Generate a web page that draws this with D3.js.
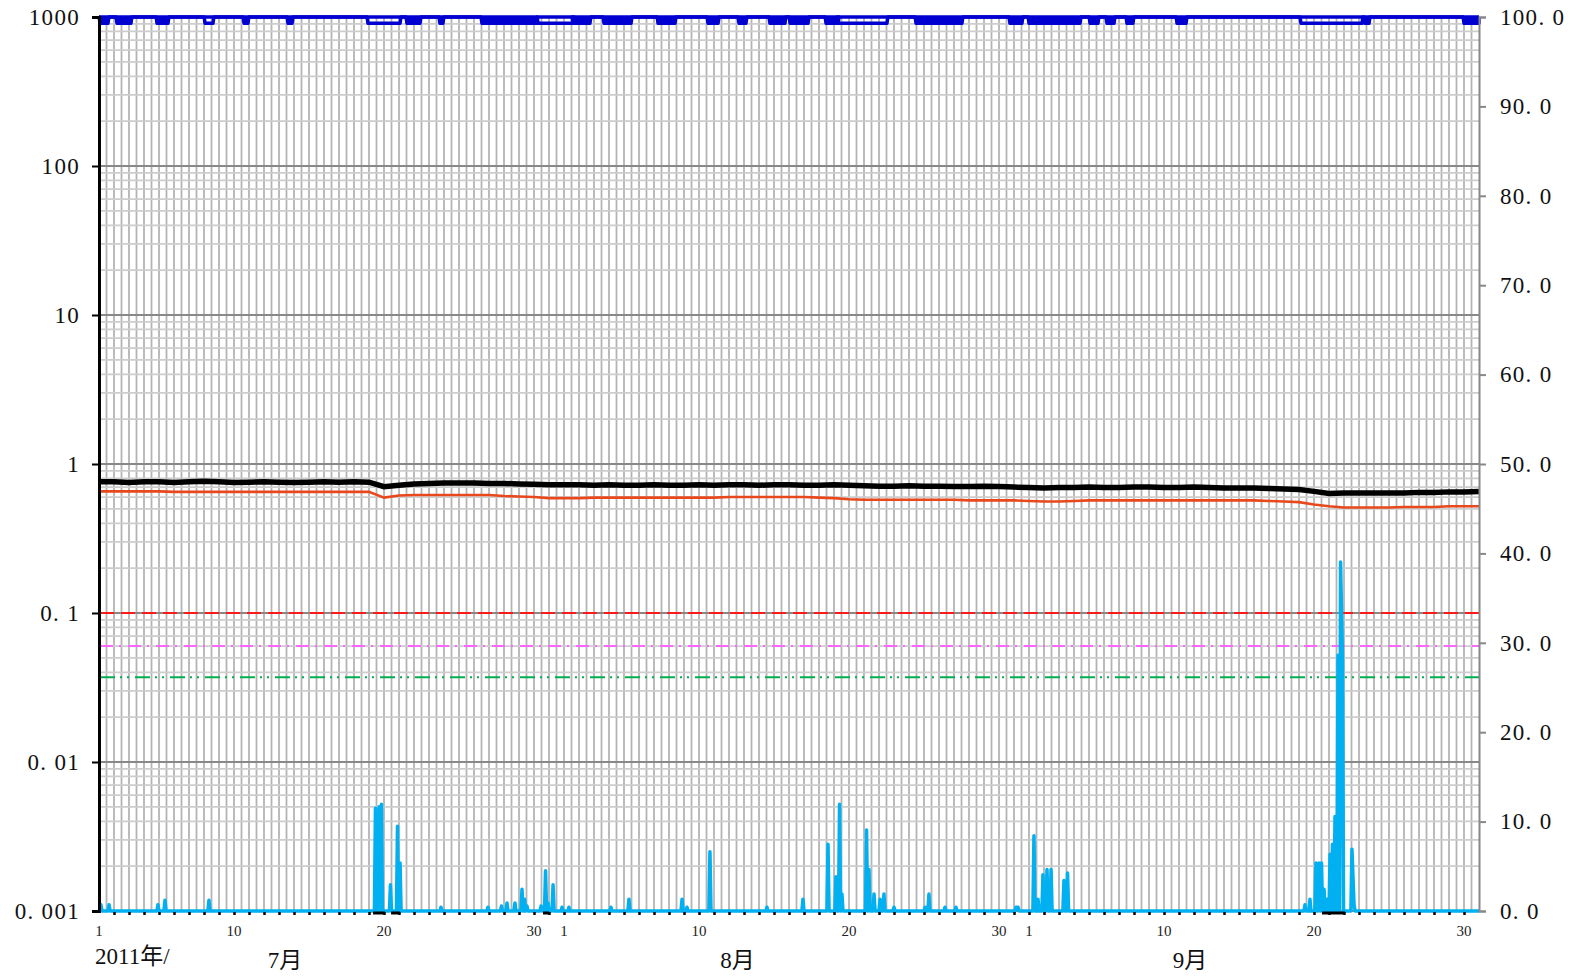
<!DOCTYPE html>
<html><head><meta charset="utf-8">
<script src="https://cdn.jsdelivr.net/npm/d3@7"></script>
<style>
html,body{margin:0;padding:0;background:#fff;}
svg{display:block;}
text{font-family:"Liberation Serif","DejaVu Serif","Noto Sans CJK JP",serif;}
</style></head>
<body>
<script>
// ---------- DATA ----------
const months = ["7月", "8月", "9月"];
const monthDays = [31, 31, 30];
const dayLabels = [1, 10, 20, 30];
const yearLabel = "2011年/";
const leftTicks = [0.001, 0.01, 0.1, 1, 10, 100, 1000];
const rightTicks = [0, 10, 20, 30, 40, 50, 60, 70, 80, 90, 100];

// daily values (day 0 = Jul 1 00:00 ... day 92 = Oct 1)
const blackSeries = [
  0.76,0.76,0.75,0.76,0.76,0.75,0.76,0.765,0.76,0.75,0.755,0.76,0.755,0.75,0.755,0.76,0.755,0.76,
  0.755,0.705,0.72,0.735,0.74,0.745,0.745,0.745,0.74,0.74,0.735,0.73,0.725,
  0.725,0.725,0.72,0.725,0.72,0.72,0.725,0.72,0.72,0.725,0.72,0.725,0.725,0.72,0.725,0.725,0.72,0.72,0.725,0.72,
  0.715,0.71,0.71,0.715,0.71,0.71,0.705,0.705,0.71,0.705,0.70,
  0.695,0.69,0.695,0.695,0.70,0.695,0.695,0.70,0.70,0.695,0.695,0.70,0.695,0.69,0.69,0.69,0.685,0.68,
  0.675,0.655,0.635,0.64,0.64,0.64,0.64,0.64,0.645,0.645,0.65,0.65,0.655
];
const orangeSeries = [
  0.655,0.655,0.655,0.655,0.655,0.65,0.65,0.65,0.65,0.65,0.65,0.65,0.65,0.65,0.65,0.65,0.65,0.65,
  0.65,0.595,0.615,0.62,0.62,0.62,0.62,0.62,0.62,0.61,0.605,0.60,0.59,
  0.59,0.59,0.595,0.595,0.595,0.595,0.595,0.595,0.595,0.595,0.595,0.60,0.60,0.60,0.60,0.60,0.60,0.595,0.59,0.58,
  0.575,0.575,0.575,0.575,0.575,0.575,0.575,0.57,0.57,0.57,0.57,
  0.565,0.56,0.56,0.565,0.57,0.57,0.57,0.57,0.57,0.57,0.57,0.57,0.57,0.57,0.57,0.57,0.565,0.56,
  0.555,0.535,0.52,0.51,0.51,0.51,0.51,0.515,0.515,0.515,0.52,0.52,0.52
];
// cyan spikes above the 0.001 floor: [day, value]
const cyanSpikes = [
  [0.13,0.0011],[0.67,0.0011],[3.93,0.0011],[4.4,0.00118],[7.33,0.00118],
  [18.43,0.0049],[18.67,0.0050],[18.83,0.0052],[19.43,0.0015],[19.9,0.0037],[20.07,0.0021],
  [22.8,0.00106],[25.93,0.00106],[26.83,0.00108],[27.2,0.00113],[27.73,0.00113],
  [28.2,0.0014],[28.37,0.0012],[28.53,0.00108],[29.47,0.00108],[29.77,0.00186],[29.93,0.00113],
  [30.27,0.0015],[30.87,0.00106],[31.33,0.00106],[34.13,0.00106],[35.33,0.0012],
  [38.87,0.0012],[39.2,0.00106],[40.73,0.0025],[44.53,0.00106],[46.93,0.0012],
  [48.6,0.0028],[49.13,0.0017],[49.37,0.0052],[49.53,0.0013],
  [51.17,0.0035],[51.33,0.0019],[51.67,0.0013],[52.07,0.0012],[52.33,0.0013],[53.0,0.00106],
  [55.07,0.00106],[55.33,0.0013],[56.4,0.00106],[57.13,0.00106],[61.13,0.00106],[61.27,0.00106],
  [62.33,0.0032],[62.6,0.0012],[62.93,0.00175],[63.2,0.0019],[63.47,0.0019],[64.33,0.0016],[64.57,0.0018],
  [80.4,0.0011],[80.73,0.0012],[81.13,0.0021],[81.33,0.0021],[81.5,0.0021],[81.67,0.0014],[81.87,0.0012],
  [82.07,0.0024],[82.23,0.0028],[82.4,0.0043],[82.6,0.052],[82.77,0.22],[82.9,0.05],
  [83.53,0.0026],[83.67,0.0011]
];
const cyanFloor = 0.001;
// black floor segments at 0.001 : [startDay, endDay]
const blackFloorSegs = [[18.27,19.07],[19.47,20.07],[29.6,30.0],[81.53,83.07]];
// blue series (right axis): 100 with dips : [start, end, solid]
const blueBase = 100, blueLow = 99.3;
const blueDips = [
  [0.07,0.6,1],[1.2,2.13,1],[3.87,4.6,1],[7.07,7.6,0],[9.67,9.93,1],[12.6,12.87,1],
  [17.93,20.07,0],[20.53,21.4,1],[22.73,22.93,1],[25.53,29.13,1],[29.27,31.6,0],[31.6,32.73,1],
  [33.67,35.47,1],[37.27,38.4,1],[40.6,41.27,1],[42.67,43.13,1],[44.73,45.73,1],[46.07,47.27,1],
  [48.47,49.27,1],[49.27,52.53,0],[54.47,57.53,1],[60.73,61.53,1],[62.0,65.4,1],[66.07,66.6,1],
  [67.2,67.67,1],[68.53,68.93,1],[71.87,72.47,1],[80.13,84.2,0],[84.4,84.67,1],[91.0,92,1]
];
// thresholds
const thresholds = [
  {v:0.1, color:"#ff1a1a", dash:"14,7"},
  {v:0.06, color:"#ff66ff", dash:"13,6,2,7"},
  {v:0.037, color:"#00b050", dash:"15,5,2,5,2,6"}
];

// ---------- CHART ----------
const W = 1570, H = 976;
const L = 99, R = 1479, T = 17, B = 911;
const totalDays = d3.sum(monthDays);
const svg = d3.select("body").append("svg").attr("width", W).attr("height", H);

const x = d3.scaleLinear().domain([0, totalDays]).range([L, R]);
const yL = d3.scaleLog().domain([0.001, 1000]).range([B, T]);
const yR = d3.scaleLinear().domain([0, 100]).range([B, T]);

const grid = svg.append("g");
grid.selectAll(".vg").data(d3.range(0.5, totalDays, 0.5)).join("line")
  .attr("x1", d => x(d)).attr("x2", d => x(d)).attr("y1", T).attr("y2", B)
  .attr("stroke", "#b4b4b4").attr("stroke-width", 1.8);
const minor = [];
for (let e = -3; e < 3; e++) for (let k = 2; k <= 9; k++) minor.push(k * Math.pow(10, e));
grid.selectAll(".hm").data(minor).join("line")
  .attr("x1", L).attr("x2", R).attr("y1", d => yL(d)).attr("y2", d => yL(d))
  .attr("stroke", "#cdcdcd").attr("stroke-width", 1.8);
grid.selectAll(".hM").data(leftTicks).join("line")
  .attr("x1", L).attr("x2", R).attr("y1", d => yL(d)).attr("y2", d => yL(d))
  .attr("stroke", "#888").attr("stroke-width", 1.8);

svg.append("g").selectAll("line").data(thresholds).join("line")
  .attr("x1", L + 1).attr("x2", R).attr("y1", d => yL(d.v)).attr("y2", d => yL(d.v))
  .attr("stroke", d => d.color).attr("stroke-width", 2).attr("stroke-dasharray", d => d.dash);

// cyan series
const cyanPts = [[0, cyanFloor]];
const hw = 0.07;
cyanSpikes.forEach((s, i) => {
  const prev = cyanPts[cyanPts.length - 1];
  if (prev[0] < s[0] - hw && (i === 0 || cyanSpikes[i - 1][0] < s[0] - 2 * hw)) cyanPts.push([s[0] - hw, cyanFloor]);
  cyanPts.push(s);
  const nxt = cyanSpikes[i + 1];
  if (!nxt || nxt[0] > s[0] + 2 * hw) cyanPts.push([s[0] + hw, cyanFloor]);
});
cyanPts.push([totalDays, cyanFloor]);
svg.append("path").datum(cyanPts)
  .attr("d", d3.line().x(d => x(d[0])).y(d => yL(d[1])))
  .attr("fill", "none").attr("stroke", "#00b0f0").attr("stroke-width", 3.5).attr("stroke-linejoin", "round");

svg.append("g").selectAll("line").data(blackFloorSegs).join("line")
  .attr("x1", d => x(d[0])).attr("x2", d => x(d[1]))
  .attr("y1", yL(cyanFloor) + 2).attr("y2", yL(cyanFloor) + 2)
  .attr("stroke", "#000").attr("stroke-width", 3);

const dayLine = yS => d3.line().x((d, i) => x(i)).y(d => yS(d));
svg.append("path").datum(orangeSeries).attr("d", dayLine(yL))
  .attr("fill", "none").attr("stroke", "#e8481c").attr("stroke-width", 2.6);
svg.append("path").datum(blackSeries).attr("d", dayLine(yL))
  .attr("fill", "none").attr("stroke", "#000").attr("stroke-width", 5.5);

// blue series
const bluePts = [[0, blueBase]];
const eps = 0.06;
blueDips.forEach(d => {
  bluePts.push([Math.max(0, d[0] - eps), blueBase]);
  bluePts.push([d[0], blueLow]);
  bluePts.push([d[1], blueLow]);
  bluePts.push([Math.min(totalDays, d[1] + eps), blueBase]);
});
bluePts.push([totalDays, blueBase]);
svg.append("g").selectAll("rect").data(blueDips.filter(d => d[2])).join("rect")
  .attr("x", d => x(d[0])).attr("width", d => x(d[1]) - x(d[0]))
  .attr("y", yR(blueBase)).attr("height", yR(blueLow) - yR(blueBase) + 1.5)
  .attr("fill", "#0000d0");
svg.append("line").attr("x1", L).attr("x2", R).attr("y1", yR(blueBase)).attr("y2", yR(blueBase))
  .attr("stroke", "#0000d0").attr("stroke-width", 3.5);
svg.append("path").datum(bluePts)
  .attr("d", d3.line().x(d => x(d[0])).y(d => yR(d[1])))
  .attr("fill", "none").attr("stroke", "#0000d0").attr("stroke-width", 3.5).attr("stroke-linejoin", "round");

// axes
const fmtL = d => {
  const s = d >= 1 ? String(d) : d.toFixed(Math.round(-Math.log10(d)));
  return s.replace(".", ". ");
};
const gl = svg.append("g").attr("transform", `translate(${L},0)`)
  .call(d3.axisLeft(yL).tickValues(leftTicks).tickFormat(fmtL).tickSize(7).tickPadding(12));
gl.select(".domain").attr("stroke", "#000").attr("stroke-width", 3);
gl.selectAll(".tick line").attr("stroke", "#000").attr("stroke-width", 2);
gl.selectAll("text").attr("font-size", 23).attr("fill", "#111").style("letter-spacing", "1.3px")
  .attr("font-family", '"Liberation Serif","DejaVu Serif",serif');

const gr = svg.append("g").attr("transform", `translate(${R},0)`)
  .call(d3.axisRight(yR).tickValues(rightTicks).tickFormat(d => d.toFixed(1).replace(".", ". ")).tickSize(7).tickPadding(14));
gr.select(".domain").attr("stroke", "#888").attr("stroke-width", 2);
gr.selectAll(".tick line").attr("stroke", "#888").attr("stroke-width", 2);
gr.selectAll("text").attr("font-size", 23).attr("fill", "#111").style("letter-spacing", "1.3px")
  .attr("font-family", '"Liberation Serif","DejaVu Serif",serif');

const gb = svg.append("g").attr("transform", `translate(0,${B + 1})`)
  .call(d3.axisBottom(x).tickValues(d3.range(1, totalDays)).tickSize(3).tickFormat(""));
gb.select(".domain").remove();
gb.selectAll(".tick line").attr("stroke", "#000").attr("stroke-width", 2.5);

const starts = d3.cumsum([0, ...monthDays.slice(0, -1)]);
const dayLab = [];
months.forEach((m, i) => dayLabels.forEach(dl => { if (dl <= monthDays[i]) dayLab.push({t: starts[i] + dl - 1, s: String(dl)}); }));
svg.append("g").selectAll("text").data(dayLab).join("text")
  .attr("x", d => x(d.t)).attr("y", 936).attr("text-anchor", "middle")
  .attr("font-size", 15).attr("fill", "#222").text(d => d.s);

svg.append("text").attr("x", 95).attr("y", 964).attr("font-size", 23).attr("fill", "#111")
  .attr("font-family", '"Liberation Serif","Noto Sans CJK JP",serif').text(yearLabel);
svg.append("g").selectAll("text").data(months).join("text")
  .attr("x", (d, i) => 285 + i * 452.5).attr("y", 968).attr("text-anchor", "middle")
  .attr("font-size", 23).attr("fill", "#111")
  .attr("font-family", '"Liberation Serif","Noto Sans CJK JP",serif').text(d => d);
</script>
</body></html>
